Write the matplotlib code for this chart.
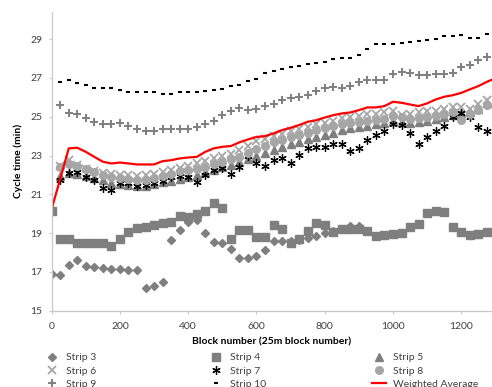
import matplotlib
matplotlib.use("Agg")
import matplotlib.pyplot as plt

plt.rcParams['font.family'] = ['Lato', 'DejaVu Sans']

# ---------------- data ----------------
blocks_all = list(range(0, 1300, 25))      # 0 .. 1275
blocks_from25 = list(range(25, 1300, 25))  # 25 .. 1275
blocks_s3 = list(range(0, 925, 25))        # 0 .. 900
blocks_avg = list(range(0, 1325, 25))      # 0 .. 1300

strip3 = [16.9, 16.85, 17.35, 17.6, 17.3, 17.25, 17.2, 17.15, 17.15, 17.1, 17.1,
          16.18, 16.28, 16.46, 18.63, 19.14, 19.55, 19.66, 19.02, 18.56, 18.47,
          18.2, 17.73, 17.73, 17.82, 18.11, 18.57, 18.57, 18.59, 18.64, 18.76,
          18.85, 18.99, 19.1, 19.2, 19.35, 19.35]

strip4 = [20.14, 18.68, 18.68, 18.5, 18.5, 18.47, 18.47, 18.32, 18.7, 19.04, 19.26,
          19.33, 19.43, 19.52, 19.55, 19.88, 19.84, 20.0, 20.15, 20.56, 20.27,
          18.72, 19.16, 19.16, 18.78, 18.78, 19.4, 19.22, 18.5, 18.68, 19.1,
          19.53, 19.4, 19.07, 19.21, 19.22, 19.21, 19.1, 18.85, 18.88, 18.97,
          19.02, 19.31, 19.45, 20.02, 20.14, 20.09, 19.31, 19.05, 18.9, 18.95, 19.07]

strip5 = [21.95, 22.1, 22.05, 21.95, 21.85, 21.75, 21.6, 21.55, 21.5, 21.45, 21.45,
          21.55, 21.65, 21.7, 21.8, 21.9, 22.0, 22.15, 22.25, 22.4, 22.5, 22.65,
          22.8, 23.0, 23.15, 23.3, 23.45, 23.6, 23.7, 23.85, 23.95, 24.05, 24.15,
          24.3, 24.4, 24.45, 24.5, 24.6, 24.7, 24.8, 24.75, 24.7, 24.75, 24.8,
          24.9, 25.0, 25.1, 25.2, 25.25, 25.4, 25.7]

strip6 = [22.45, 22.75, 22.5, 22.3, 22.2, 22.1, 22.05, 22.0, 22.0, 21.95, 22.0,
          22.05, 22.15, 22.25, 22.35, 22.45, 22.6, 22.7, 22.85, 23.0, 23.1, 23.3,
          23.5, 23.75, 23.85, 24.0, 24.1, 24.25, 24.35, 24.45, 24.6, 24.7, 24.8,
          24.95, 25.0, 25.05, 25.15, 25.15, 25.25, 25.3, 25.1, 25.15, 25.25, 25.3,
          25.3, 25.4, 25.5, 25.5, 25.4, 25.65, 25.85]

strip7 = [21.73, 22.08, 22.16, 21.9, 21.73, 21.35, 21.22, 21.59, 21.56, 21.42, 21.48,
          21.59, 21.7, 21.87, 21.94, 21.9, 21.65, 22.0, 22.25, 22.35, 22.05, 22.4,
          23.0, 22.59, 22.47, 22.75, 22.85, 22.64, 23.02, 23.37, 23.45, 23.45,
          23.59, 23.62, 23.24, 23.37, 23.79, 24.05, 24.27, 24.65, 24.57, 24.14,
          23.62, 23.96, 24.27, 24.51, 25.0, 25.17, 25.0, 24.48, 24.27]

strip8 = [22.4, 22.55, 22.45, 22.3, 22.15, 22.0, 21.9, 21.85, 21.8, 21.75, 21.75,
          21.85, 21.95, 22.05, 22.2, 22.25, 22.3, 22.4, 22.55, 22.65, 22.8, 22.95,
          23.15, 23.35, 23.5, 23.7, 23.8, 23.95, 24.05, 24.15, 24.3, 24.4, 24.5,
          24.6, 24.7, 24.75, 24.8, 24.85, 24.9, 25.05, 25.0, 24.9, 24.95, 25.0,
          25.05, 25.15, 25.25, 24.85, 25.15, 25.35, 25.6]

strip9 = [25.6, 25.17, 25.13, 24.91, 24.71, 24.6, 24.6, 24.69, 24.52, 24.35, 24.27,
          24.26, 24.38, 24.38, 24.38, 24.38, 24.48, 24.65, 24.77, 25.08, 25.3,
          25.43, 25.34, 25.4, 25.55, 25.65, 25.85, 25.95, 26.0, 26.11, 26.32,
          26.5, 26.54, 26.46, 26.58, 26.77, 26.89, 26.89, 26.89, 27.18, 27.31,
          27.26, 27.14, 27.14, 27.19, 27.19, 27.26, 27.57, 27.69, 27.92, 28.1]

strip10 = [26.8, 26.87, 26.75, 26.66, 26.49, 26.5, 26.49, 26.39, 26.28, 26.28, 26.28,
           26.27, 26.15, 26.15, 26.28, 26.25, 26.28, 26.33, 26.37, 26.44, 26.56,
           26.63, 26.82, 26.97, 27.28, 27.36, 27.47, 27.54, 27.64, 27.71, 27.75,
           27.83, 28.0, 28.05, 28.05, 28.17, 28.5, 28.74, 28.74, 28.76, 28.81,
           28.86, 28.93, 28.96, 29.03, 29.14, 29.17, 29.2, 29.08, 29.06, 29.28]

weighted_avg = [20.25, 21.8, 23.37, 23.4, 23.19, 22.93, 22.68, 22.59, 22.64, 22.59,
                22.54, 22.54, 22.54, 22.71, 22.76, 22.85, 22.9, 22.93, 23.19, 23.37,
                23.45, 23.49, 23.68, 23.83, 23.96, 24.0, 24.14, 24.31, 24.43, 24.57,
                24.74, 24.82, 24.96, 25.08, 25.17, 25.22, 25.34, 25.48, 25.48, 25.55,
                25.77, 25.72, 25.63, 25.55, 25.69, 25.89, 26.03, 26.11, 26.23, 26.41,
                26.58, 26.8, 26.98]

yticks = [15, 17, 19, 21, 23, 25, 27, 29]
xticks = [0, 200, 400, 600, 800, 1000, 1200]

# ---------------- figure ----------------
W, H = 492, 387
fig = plt.figure(figsize=(W / 100, H / 100), dpi=100)
ax = fig.add_axes([51.7 / W, 1 - 310.7 / H, (W - 51.7) / W, (310.7 - 12) / H])

txt = '#404040'
gray_dark = '#7f7f7f'
gray_light = '#a6a6a6'

s3, = ax.plot(blocks_s3, strip3, ls='none', marker='D', ms=3.6, color=gray_dark, mec=gray_dark)
s4, = ax.plot(blocks_all, strip4, ls='none', marker='s', ms=5.4, color=gray_dark, mec=gray_dark)
s5, = ax.plot(blocks_from25, strip5, ls='none', marker='^', ms=5.5, color=gray_dark, mec=gray_dark)
s6, = ax.plot(blocks_from25, strip6, ls='none', marker='x', ms=5.5, mew=1.3, color=gray_light)
s7, = ax.plot(blocks_from25, strip7, ls='none', marker=(6, 2, 0), ms=6.0, mew=0.9, color='black')
s8, = ax.plot(blocks_from25, strip8, ls='none', marker='o', ms=5.5, color=gray_light, mec=gray_light)
s9, = ax.plot(blocks_from25, strip9, ls='none', marker='+', ms=6.0, mew=1.4, color=gray_dark)
s10, = ax.plot(blocks_from25, strip10, ls='none', marker='_', ms=3.5, mew=1.5, color='black')
wa, = ax.plot(blocks_avg, weighted_avg, color='#ff0000', lw=1.6)

ax.set_xlim(0, 1290)
ax.set_ylim(15, 30.4)
ax.set_xticks(xticks)
ax.set_yticks(yticks)

for sp in ['top', 'right']:
    ax.spines[sp].set_visible(False)
for sp in ['left', 'bottom']:
    ax.spines[sp].set_color('#c8c8c8')
    ax.spines[sp].set_linewidth(0.9)

ax.tick_params(axis='both', direction='out', length=2.4, width=0.8, color='#c8c8c8',
               labelsize=7.5, labelcolor=txt)
ax.tick_params(axis='y', pad=4.5)
ax.tick_params(axis='x', pad=5.5)

ax.set_xlabel('Block number (25m block number)', fontsize=7.5, fontweight='bold',
              color='black', labelpad=5)
ax.set_ylabel('Cycle time (min)', fontsize=7.5, fontweight='bold', color='black',
              labelpad=5)

# legend: three columns placed explicitly
cols = [[(s3, 'Strip 3'), (s6, 'Strip 6'), (s9, 'Strip 9')],
        [(s4, 'Strip 4'), (s7, 'Strip 7'), (s10, 'Strip 10')],
        [(s5, 'Strip 5'), (s8, 'Strip 8'), (wa, 'Weighted Average')]]
xs = [45.0, 209.0, 372.0]
for col, x0 in zip(cols, xs):
    hs = [c[0] for c in col]
    ls = [c[1] for c in col]
    fig.legend(hs, ls, loc='upper left', bbox_to_anchor=(x0 / W, 1 - 353 / H),
               frameon=False, fontsize=7.5, handlelength=1.3, handletextpad=0.7,
               labelspacing=0.38, borderpad=0, borderaxespad=0, numpoints=1,
               labelcolor=txt)

fig.savefig('out.png', dpi=100)
